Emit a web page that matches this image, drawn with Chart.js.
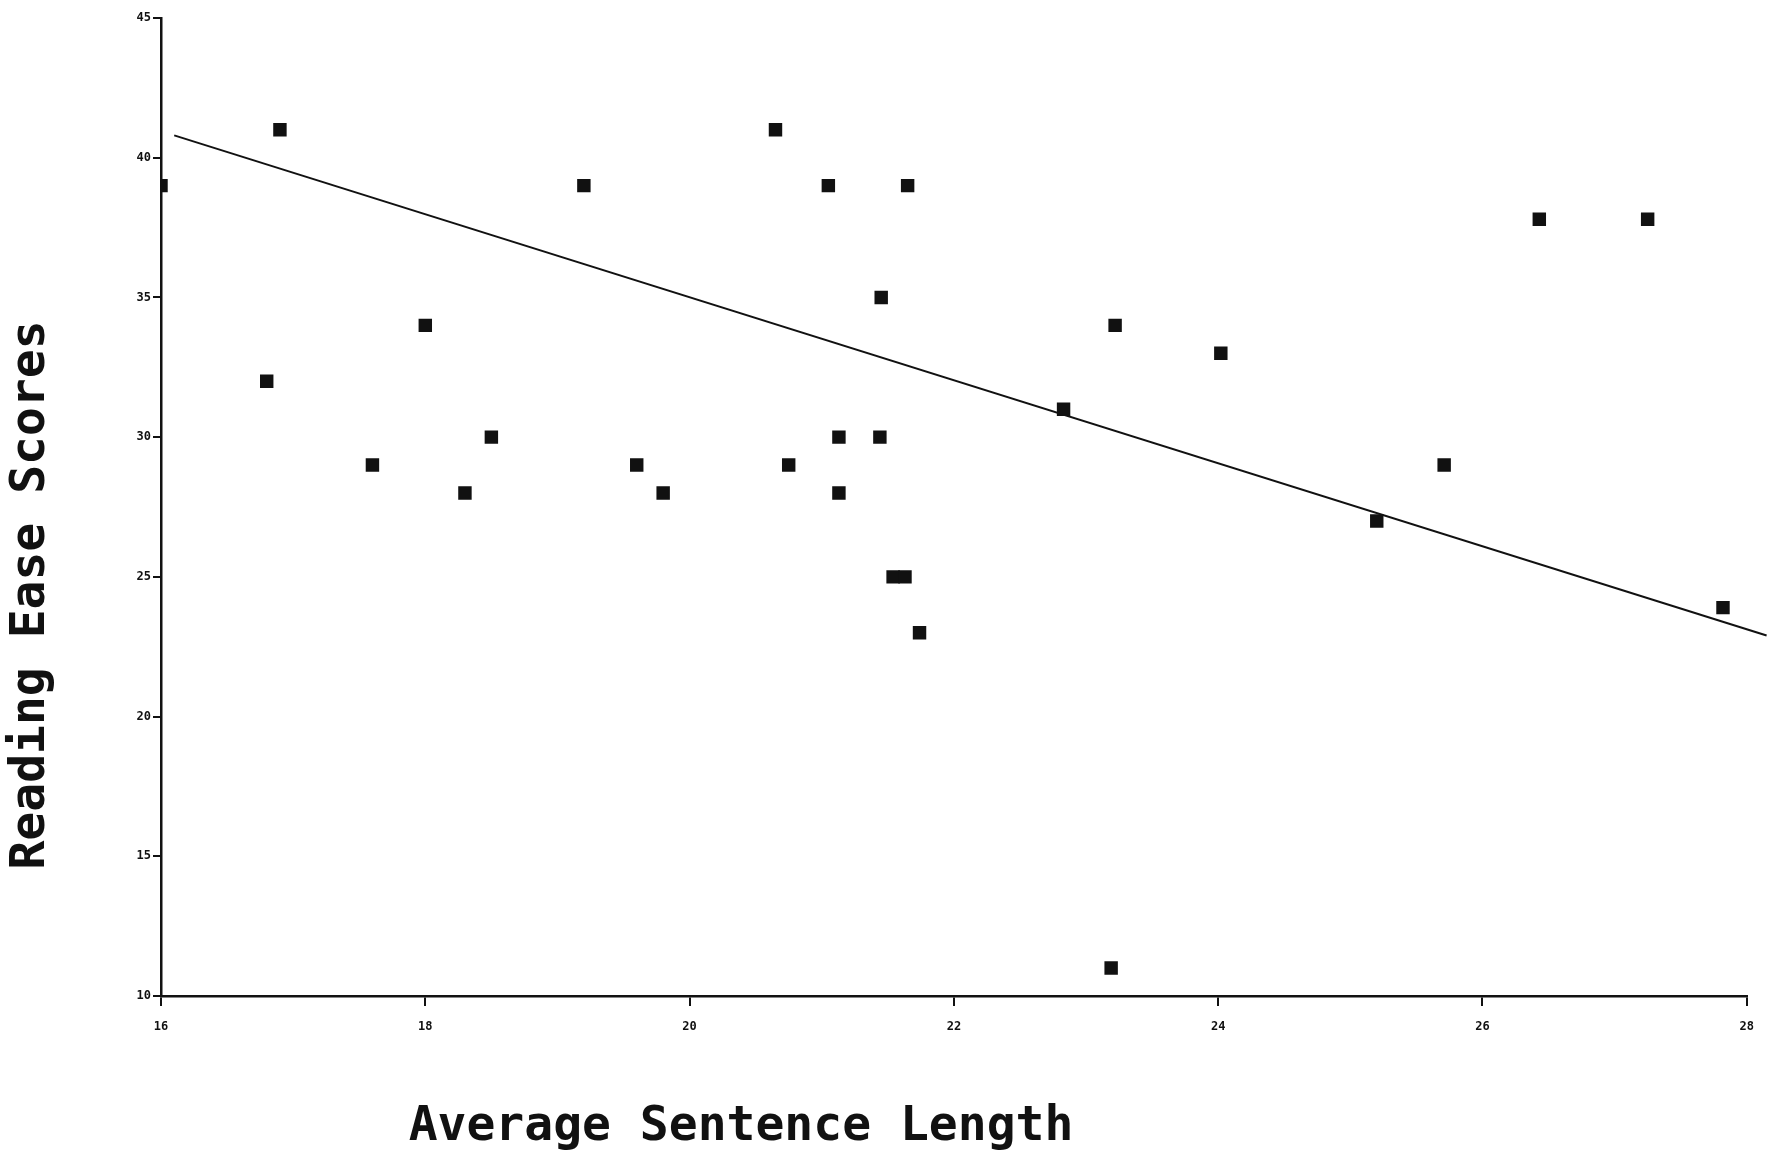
<!DOCTYPE html>
<html>
<head>
<meta charset="utf-8">
<script src="https://cdn.jsdelivr.net/npm/chart.js@4"></script>
<style>
  html, body { margin: 0; padding: 0; background: #fff; }
  #wrap { width: 1768px; height: 1156px; }
</style>
</head>
<body>
<div id="wrap"><canvas id="scoreChart" width="1768" height="1156"></canvas></div>
<script>
// valores
const sentenceLength = [16.0, 16.9, 16.8, 17.6, 18.0, 18.3, 18.5, 19.2, 19.6, 19.8,
                        20.65, 20.75, 21.05, 21.13, 21.13, 21.44, 21.45, 21.65, 21.54, 21.63,
                        21.74, 22.83, 23.22, 23.19, 24.02, 25.2, 25.71, 26.43, 27.25, 27.82];
const readingEase = [39, 41, 32, 29, 34, 28, 30, 39, 29, 28,
                     41, 29, 39, 30, 28, 30, 35, 39, 25, 25,
                     23, 31, 34, 11, 33, 27, 29, 37.8, 37.8, 23.9];
const fitX = [16.1, 28.15];
const fitY = [40.8, 22.9];
const xTicks = [16, 18, 20, 22, 24, 26, 28];
const yTicks = [10, 15, 20, 25, 30, 35, 40, 45];
const xTitle = 'Average Sentence Length';
const yTitle = 'Reading Ease Scores';

const points = sentenceLength.map((x, i) => ({ x: x, y: readingEase[i] }));
const fitLine = fitX.map((x, i) => ({ x: x, y: fitY[i] }));

// titulos de ejes dibujados a mano (no centrados en el original)
const axisTitles = {
    id: 'axisTitles',
    afterDraw(chart) {
        const ctx = chart.ctx;
        ctx.save();
        ctx.fillStyle = '#111';
        ctx.font = 'bold 48px "DejaVu Sans Mono"';
        ctx.textAlign = 'center';
        ctx.textBaseline = 'middle';
        ctx.fillText(xTitle, 741, 1128);
        ctx.translate(32, 595);
        ctx.rotate(-Math.PI / 2);
        ctx.fillText(yTitle, 0, 0);
        ctx.restore();
    }
};

const tickFont = { family: 'DejaVu Sans Mono', size: 12, weight: 'bold' };

new Chart(document.getElementById('scoreChart').getContext('2d'), {
    type: 'scatter',
    data: {
        datasets: [
            {
                label: 'scores',
                data: points,
                pointStyle: 'rect',
                pointRadius: 9.5,
                pointHoverRadius: 9.5,
                backgroundColor: '#111',
                borderColor: '#111',
                borderWidth: 0
            },
            {
                label: 'fit',
                type: 'line',
                data: fitLine,
                borderColor: '#111',
                borderWidth: 2,
                pointRadius: 0,
                fill: false,
                clip: false
            }
        ]
    },
    options: {
        responsive: false,
        animation: false,
        layout: { padding: { top: 18, right: 19, left: 0, bottom: 0 } },
        plugins: {
            legend: { display: false },
            tooltip: { enabled: false }
        },
        scales: {
            x: {
                type: 'linear',
                min: 16,
                max: 28,
                afterBuildTicks: s => { s.ticks = xTicks.map(v => ({ value: v })); },
                afterFit: s => { s.height = 160; },
                ticks: { color: '#111', font: tickFont, padding: 14 },
                grid: { drawOnChartArea: false, color: '#111', tickLength: 10, lineWidth: 2 },
                border: { color: '#111', width: 2.5 }
            },
            y: {
                type: 'linear',
                min: 10,
                max: 45,
                afterBuildTicks: s => { s.ticks = yTicks.map(v => ({ value: v })); },
                afterFit: s => { s.width = 161; },
                ticks: { color: '#111', font: tickFont, padding: 2 },
                grid: { drawOnChartArea: false, color: '#111', tickLength: 8, lineWidth: 2 },
                border: { color: '#111', width: 2.5 }
            }
        }
    },
    plugins: [axisTitles]
});
</script>
</body>
</html>
